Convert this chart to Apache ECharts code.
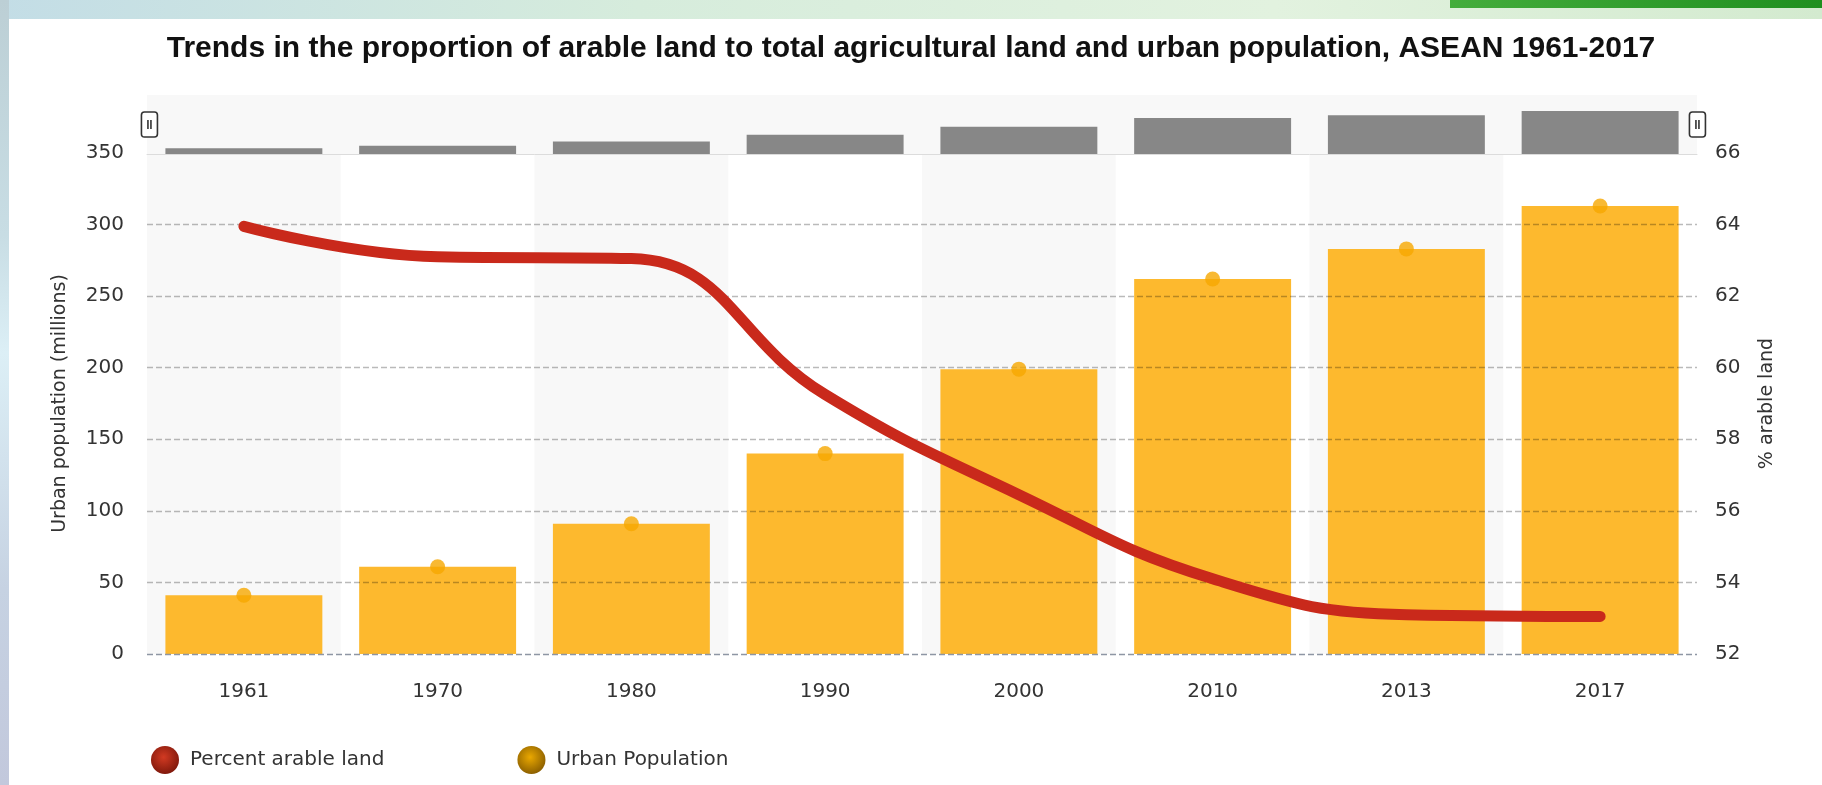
<!DOCTYPE html>
<html>
<head>
<meta charset="utf-8">
<title>Arable land and urban population, ASEAN 1961-2017</title>
<script src="https://cdn.jsdelivr.net/npm/echarts/dist/echarts.min.js"></script>
<style>
  html, body { margin: 0; padding: 0; }
  body { width: 1822px; height: 785px; position: relative; overflow: hidden; background: #fff; }
  /* page decoration around the chart panel */
  .bg-top { position: absolute; left: 0; top: 0; width: 1822px; height: 19px;
    background: linear-gradient(90deg, #c3dde6 0%, #d6ecdc 35%, #e2f2df 70%, #d3eacf 100%); }
  .bg-green { position: absolute; left: 1450px; top: 0; width: 372px; height: 8px;
    background: linear-gradient(90deg, #44ad3c, #1f8f1f); }
  .bg-left { position: absolute; left: 0; top: 0; width: 9px; height: 785px;
    background: linear-gradient(180deg, #bccfd5 0%, #c8dde4 30%, #dceff6 45%, #c6d2e2 75%, #c2c8dc 100%); }
  #chart { position: absolute; left: 0; top: 0; width: 1822px; height: 785px; }
</style>
</head>
<body>
<div class="bg-top"></div>
<div class="bg-green"></div>
<div class="bg-left"></div>
<div id="chart"></div>
<script>
const years = ['1961', '1970', '1980', '1990', '2000', '2010', '2013', '2017'];
// urban population, millions (left axis)
const urbanPopulation = [41, 61, 91, 140, 199, 262, 283, 313];
// arable land as % of agricultural land (right axis)
const arableLand = [63.95, 63.1, 63.05, 59.25, 56.45, 54.1, 53.1, 53.05];

const leftTicks = { min: 0, max: 350, interval: 50 };
const rightTicks = { min: 52, max: 66, interval: 2 };

const FONT = 'DejaVu Sans';

function ballGradient(light, dark) {
  return new echarts.graphic.RadialGradient(0.45, 0.4, 0.65, [
    { offset: 0, color: light },
    { offset: 1, color: dark }
  ]);
}

const chart = echarts.init(document.getElementById('chart'), null, { renderer: 'canvas' });

// grid lines: the zero line is darker than the rest, top one hidden under the scrollbar edge
const gridGray = 'rgba(0,0,0,0.27)';
const splitColors = ['#8e96a4', gridGray, gridGray, gridGray, gridGray, gridGray, gridGray, 'rgba(0,0,0,0)'];

const option = {
  animation: false,
  backgroundColor: 'transparent',
  title: {
    text: 'Trends in the proportion of arable land to total agricultural land and urban population, ASEAN 1961-2017',
    left: 'center',
    top: 29,
    textStyle: { fontFamily: 'Liberation Sans', fontWeight: 'bold', fontSize: 30, color: '#111' }
  },
  legend: {
    left: 146,
    top: 741,
    itemWidth: 28,
    itemHeight: 28,
    itemGap: 133,
    icon: 'circle',
    textStyle: { fontFamily: FONT, fontSize: 20, color: '#333', padding: [0, 0, 0, 6] },
    data: [
      { name: 'Percent arable land', itemStyle: { color: ballGradient('#d23a22', '#7a160a'), borderWidth: 0 } },
      { name: 'Urban Population', itemStyle: { color: ballGradient('#eaa800', '#855a00'), borderWidth: 0 } }
    ]
  },
  grid: [
    { left: 147, right: 125, top: 153, bottom: 131 },
    // scrollbar preview strip
    { left: 147, right: 125, top: 95, height: 59, show: true, backgroundColor: '#f8f8f8', borderWidth: 0 }
  ],
  dataZoom: [{
    type: 'slider',
    xAxisIndex: [0, 1],
    start: 0,
    end: 100,
    left: 147,
    right: 125,
    top: 95,
    height: 59,
    showDataShadow: false,
    showDetail: false,
    brushSelect: false,
    backgroundColor: 'transparent',
    borderColor: 'transparent',
    fillerColor: 'rgba(0,0,0,0)',
    handleIcon: 'path://M3,0 H13 Q16,0 16,3 V22 Q16,25 13,25 H3 Q0,25 0,22 V3 Q0,0 3,0 Z M6.5,8 V17 M9.5,8 V17',
    handleSize: 25,
    handleStyle: { color: '#fff', borderColor: '#333', borderWidth: 1.6 },
    moveHandleSize: 0,
    moveHandleStyle: { opacity: 0 },
    emphasis: { handleStyle: { borderColor: '#333' } }
  }],
  xAxis: [
    {
      type: 'category',
      gridIndex: 0,
      data: years,
      axisLine: { show: false },
      axisTick: { show: false },
      axisLabel: { fontFamily: FONT, fontSize: 20, color: '#333', margin: 28 },
      splitArea: { show: true, areaStyle: { color: ['#f8f8f8', 'rgba(255,255,255,0)'] } }
    },
    {
      type: 'category',
      gridIndex: 1,
      data: years,
      axisLine: { show: true, lineStyle: { color: '#dcdcdc' } },
      axisTick: { show: false },
      axisLabel: { show: false }
    }
  ],
  yAxis: [
    {
      type: 'value',
      gridIndex: 0,
      position: 'left',
      min: leftTicks.min,
      max: leftTicks.max,
      interval: leftTicks.interval,
      z: 2,
      name: 'Urban population (millions)',
      nameLocation: 'middle',
      nameRotate: 90,
      nameGap: 77,
      nameTextStyle: { fontFamily: FONT, fontSize: 19, color: '#333' },
      axisLine: { show: false },
      axisTick: { show: false },
      axisLabel: { fontFamily: FONT, fontSize: 20, color: '#333', margin: 23 },
      splitLine: { show: true, lineStyle: { color: splitColors, type: [6, 3], width: 1.3 } }
    },
    {
      type: 'value',
      gridIndex: 0,
      position: 'right',
      min: rightTicks.min,
      max: rightTicks.max,
      interval: rightTicks.interval,
      name: '% arable land',
      nameLocation: 'middle',
      nameRotate: 90,
      nameGap: 61,
      nameTextStyle: { fontFamily: FONT, fontSize: 19, color: '#333' },
      axisLine: { show: false },
      axisTick: { show: false },
      axisLabel: { fontFamily: FONT, fontSize: 20, color: '#333', margin: 18 },
      splitLine: { show: false }
    },
    {
      type: 'value',
      gridIndex: 1,
      min: 0,
      max: 430,
      show: false
    }
  ],
  series: [
    {
      name: 'Urban Population',
      type: 'bar',
      xAxisIndex: 0,
      yAxisIndex: 0,
      z: 1,
      barCategoryGap: '19%',
      itemStyle: { color: '#fdb92e' },
      data: urbanPopulation
    },
    {
      name: 'Urban Population',
      type: 'scatter',
      xAxisIndex: 0,
      yAxisIndex: 0,
      z: 3,
      symbolSize: 15,
      itemStyle: { color: '#f6a700' },
      data: urbanPopulation
    },
    {
      name: 'Percent arable land',
      type: 'line',
      xAxisIndex: 0,
      yAxisIndex: 1,
      z: 4,
      smooth: 0.45,
      showSymbol: false,
      symbol: 'none',
      itemStyle: { color: '#c9291b' },
      lineStyle: { color: '#c9291b', width: 11, cap: 'round', join: 'round' },
      data: arableLand
    },
    {
      // preview bars in the scrollbar
      name: 'preview',
      type: 'bar',
      xAxisIndex: 1,
      yAxisIndex: 2,
      barCategoryGap: '19%',
      silent: true,
      itemStyle: { color: '#878787' },
      data: urbanPopulation
    }
  ]
};

chart.setOption(option);
</script>
</body>
</html>
